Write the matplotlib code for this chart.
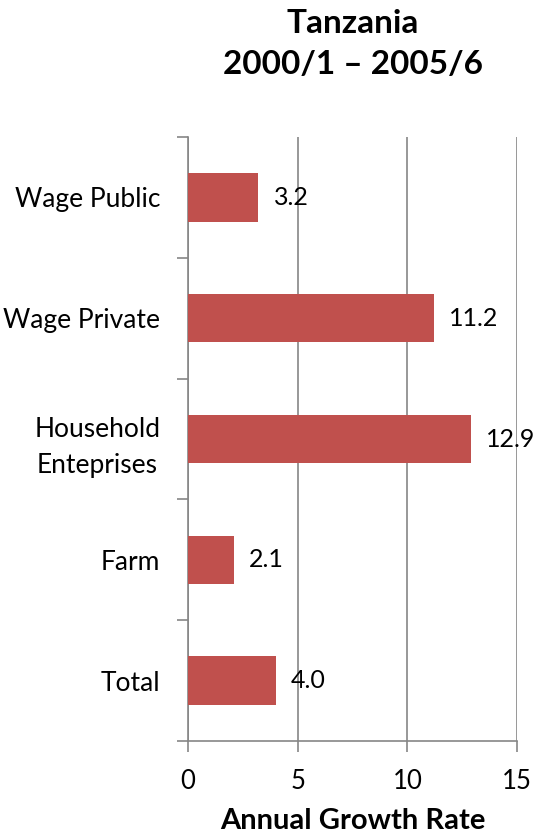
import matplotlib.pyplot as plt
import numpy as np

plt.rcParams['font.family'] = ['Lato', 'DejaVu Sans']

categories = ['Total', 'Farm', 'Household\nEnteprises', 'Wage Private', 'Wage Public']
values = [4.0, 2.1, 12.9, 11.2, 3.2]
xticks = [0, 5, 10, 15]

bar_color = '#C0504D'
axis_gray = '#868686'

fig = plt.figure(figsize=(5.39, 8.39), dpi=100)
ax = fig.add_axes([0.3488, 0.1168, 0.6104, 0.7199])

pos = np.arange(len(categories))
ax.barh(pos, values, height=0.4, color=bar_color, zorder=3)

# value labels just right of each bar
for p, v in zip(pos, values):
    ax.annotate(f'{v:.1f}', (v, p), xytext=(11, 0), textcoords='offset points',
                ha='left', va='center', fontsize=18, zorder=4)

ax.set_xlim(0, 15)
ax.set_ylim(-0.5, len(categories) - 0.5)
ax.set_xticks(xticks)
ax.set_xticklabels([str(t) for t in xticks], fontsize=18.5)
ax.xaxis.grid(True, color=axis_gray, linewidth=1.2, zorder=0)

ax.set_yticks(np.arange(-0.5, len(categories), 1.0))
ax.set_yticklabels([])
ax.set_yticks(pos, minor=True)
ax.set_yticklabels(categories, minor=True, fontsize=19, multialignment='center')
for lbl in ax.get_yticklabels(minor=True):
    lbl.set_linespacing(1.55)
ax.tick_params(axis='y', which='minor', length=0, pad=20)
ax.tick_params(axis='y', which='major', length=8, width=1.2, color=axis_gray)
ax.tick_params(axis='x', length=8, width=1.2, color=axis_gray, pad=12)

for s in ['top', 'right']:
    ax.spines[s].set_visible(False)
for s in ['left', 'bottom']:
    ax.spines[s].set_color(axis_gray)
    ax.spines[s].set_linewidth(1.2)

ax.set_xlabel('Annual Growth Rate', fontsize=21, fontweight='bold', labelpad=10)
fig.text(0.654, 0.948, 'Tanzania\n2000/1 \u2013 2005/6', ha='center', va='center',
         fontsize=24, fontweight='bold', linespacing=1.5)

fig.savefig('out.png', dpi=100)
